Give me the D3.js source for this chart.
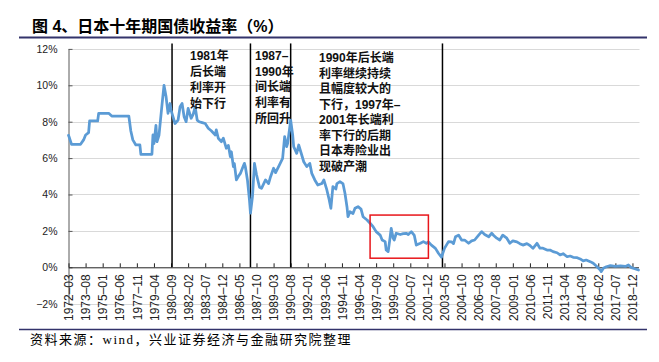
<!DOCTYPE html>
<html>
<head>
<meta charset="utf-8">
<script src="https://cdn.jsdelivr.net/npm/d3@7"></script>
<style>
  html, body { margin: 0; padding: 0; background: #fff; }
  svg { display: block; }
</style>
</head>
<body>
<div id="chart"></div>
<script>
// ---------------- data ----------------
const dates = [
  "1972-03","1972-04","1972-06","1973-03","1973-06","1973-08","1973-11","1973-12","1974-08","1974-09",
  "1975-07","1975-10","1977-03","1977-05","1977-07","1977-10","1978-02","1978-03","1979-02","1979-03",
  "1979-04","1979-06","1979-07","1979-09","1979-12","1980-02","1980-04","1980-06","1980-08","1980-09",
  "1980-11","1981-01","1981-04","1981-06","1981-08","1981-10","1981-12","1982-02","1982-05","1982-07",
  "1982-09","1982-11","1983-01","1983-04","1983-07","1983-10","1984-01","1984-05","1984-06","1984-08",
  "1984-11","1985-01","1985-04","1985-06","1985-08","1985-09","1985-11","1985-12","1986-02","1986-04",
  "1986-06","1986-08","1986-10","1986-11","1987-01","1987-03","1987-04","1987-06","1987-08","1987-10",
  "1988-01","1988-03","1988-07","1988-10","1988-12","1989-03","1989-05","1989-08","1989-12","1990-02",
  "1990-04","1990-05","1990-08","1990-10","1990-11","1991-02","1991-04","1991-07","1991-09","1991-12",
  "1992-03","1992-05","1992-08","1992-11","1993-03","1993-05","1993-08","1993-10","1993-12","1994-02",
  "1994-05","1994-06","1994-09","1994-12","1995-02","1995-04","1995-05","1995-07","1995-10","1995-12",
  "1996-03","1996-06","1996-08","1996-12","1997-03","1997-06","1997-09","1998-01","1998-03","1998-06",
  "1998-07","1998-09","1998-11","1998-12","1999-02","1999-03","1999-05","1999-09","1999-12","2000-03",
  "2000-05","2000-08","2000-11","2001-01","2001-05","2001-08","2001-11","2002-01","2002-04","2002-08",
  "2002-11","2003-02","2003-05","2003-09","2003-12","2004-02","2004-04","2004-07","2004-10","2005-01",
  "2005-05","2005-08","2005-11","2006-03","2006-06","2006-09","2007-01","2007-04","2007-06","2007-09",
  "2007-12","2008-03","2008-07","2008-10","2009-01","2009-05","2009-08","2009-11","2010-03","2010-06",
  "2010-09","2011-01","2011-04","2011-07","2011-11","2012-02","2012-05","2012-09","2012-12","2013-03",
  "2013-07","2013-10","2014-01","2014-05","2014-08","2014-11","2015-02","2015-06","2015-09","2015-12",
  "2016-04","2016-05","2016-07","2016-10","2017-02","2017-07","2017-12","2018-05","2018-08","2018-11",
  "2019-03","2019-06"
];
const yields = [
  7.25,7.1,6.76,6.76,7.0,7.27,7.4,8.04,8.04,8.46,
  8.46,8.31,8.31,7.49,7.0,6.72,6.72,6.21,6.21,7.27,
  6.8,7.8,6.9,7.25,8.92,10.0,9.4,8.46,9.0,8.64,
  8.27,7.9,8.09,8.82,9.0,8.27,8.0,8.73,8.19,8.4,
  8.82,8.09,8.0,7.95,7.9,7.64,7.5,7.27,7.55,7.09,
  6.9,7.1,6.54,6.7,6.08,6.35,5.53,5.7,4.8,5.0,
  5.16,5.44,5.71,5.5,4.8,3.7,2.97,3.88,5.71,5.1,
  4.4,4.34,4.8,4.6,4.98,5.44,5.2,5.53,5.99,7.18,
  6.63,6.81,8.09,7.27,6.63,6.26,6.72,6.17,5.8,5.53,
  5.71,5.16,4.8,4.52,4.6,4.8,4.25,3.79,3.24,4.43,
  4.3,4.6,4.7,4.6,4.07,3.33,2.78,3.05,2.95,3.24,
  3.33,3.2,2.78,2.6,2.42,2.23,1.96,1.77,1.5,1.41,
  0.95,0.86,1.68,2.14,1.59,1.5,1.87,1.8,1.85,1.87,
  1.8,1.96,1.75,1.22,1.32,1.41,1.32,1.4,1.22,1.04,
  0.77,0.55,1.04,1.41,1.4,1.3,1.68,1.77,1.5,1.5,
  1.32,1.45,1.5,1.77,1.96,1.8,1.68,1.87,1.75,1.6,
  1.5,1.77,1.6,1.32,1.45,1.4,1.3,1.22,1.3,1.2,
  1.04,1.32,1.05,1.05,0.95,0.95,0.86,0.8,0.68,0.75,
  0.58,0.62,0.55,0.53,0.46,0.35,0.4,0.31,0.22,0.07,
  -0.15,-0.24,-0.05,0.03,0.09,0.05,0.08,0.05,0.13,-0.02,
  -0.09,-0.15
];
const xTickLabels = [
  "1972–03","1973–08","1975–01","1976–06","1977–11","1979–04","1980–09","1982–02","1983–07","1984–12",
  "1986–05","1987–10","1989–03","1990–08","1992–01","1993–06","1994–11","1996–04","1997–09","1999–02",
  "2000–07","2001–12","2003–05","2004–10","2006–03","2007–08","2009–01","2010–06","2011–11","2013–04",
  "2014–09","2016–02","2017–07","2018–12"
];
const yTickValues = [-2, 0, 2, 4, 6, 8, 10, 12];
const yTickLabels = ["−2%", "0%", "2%", "4%", "6%", "8%", "10%", "12%"];
const markerDates = ["1980-10", "1987-04", "1990-08", "2003-03"];
const highlightDates = ["1997-03", "2002-01"];
const highlightValues = [0.5, 2.87];
const annotation1 = ["1981年", "后长端", "利率开", "始下行"];
const annotation2 = ["1987–", "1990年", "间长端", "利率有", "所回升"];
const annotation3 = ["1990年后长端", "利率继续持续", "且幅度较大的", "下行，1997年–", "2001年长端利", "率下行的后期", "日本寿险业出", "现破产潮"];
const title = "图 4、日本十年期国债收益率（%）";
const source = "资料来源：wind，兴业证券经济与金融研究院整理";

// ---------------- helpers ----------------
const monthIndex = s => { const [y, m] = s.split("-").map(Number); return (y - 1972) * 12 + (m - 3); };
const lastIndex = monthIndex("2019-06");

const W = 659, H = 362;
const svg = d3.select("#chart").append("svg").attr("width", W).attr("height", H);
svg.append("rect").attr("width", W).attr("height", H).attr("fill", "#fff");

const x = d3.scaleLinear().domain([0, lastIndex]).range([68.5, 638.5]);
const y = d3.scaleLinear().domain([-2, 12]).range([303.7, 48.9]);

const sansLatin = "'Liberation Sans', Arial, 'Noto Sans CJK SC', sans-serif";

// title
svg.append("text").attr("x", 32).attr("y", 32)
  .attr("font-family", sansLatin).attr("font-weight", "bold").attr("font-size", 16)
  .attr("fill", "#000").text(title);
svg.append("line").attr("x1", 19).attr("x2", 647).attr("y1", 37.5).attr("y2", 37.5)
  .attr("stroke", "#33336b").attr("stroke-width", 2);

// gridlines
svg.append("g").selectAll("line").data(yTickValues.filter(v => v !== 0)).join("line")
  .attr("x1", x(0)).attr("x2", x(lastIndex) + 1)
  .attr("y1", d => Math.round(y(d)) + 0.5).attr("y2", d => Math.round(y(d)) + 0.5)
  .attr("stroke", "#d9d9d9").attr("stroke-width", 1);

// y axis
const yAxis = svg.append("g").attr("transform", `translate(${x(0)},0)`)
  .call(d3.axisLeft(y).tickValues(yTickValues).tickFormat((d, i) => yTickLabels[i])
    .tickSizeInner(-4).tickSizeOuter(0).tickPadding(11));
yAxis.select(".domain").attr("stroke", "#595959");
yAxis.selectAll(".tick line").attr("stroke", "#595959");
yAxis.selectAll(".tick text").attr("font-family", sansLatin).attr("font-size", 10.5).attr("fill", "#222");

// x axis at 0%
const xAxis = svg.append("g").attr("transform", `translate(0,${y(0)})`)
  .call(d3.axisBottom(x).tickValues(xTickLabels.map(s => monthIndex(s.replace("–", "-"))))
    .tickFormat((d, i) => xTickLabels[i]).tickSizeInner(-4).tickSizeOuter(0));
xAxis.select(".domain").attr("stroke", "#222");
xAxis.selectAll(".tick line").attr("stroke", "#222");
xAxis.selectAll(".tick text")
  .attr("transform", "rotate(-90)").attr("text-anchor", "end")
  .attr("x", -7).attr("y", 0).attr("dy", "0.35em")
  .attr("font-family", sansLatin).attr("font-size", 12).attr("fill", "#222");

// marker vertical lines
svg.append("g").selectAll("line").data(markerDates).join("line")
  .attr("x1", d => x(monthIndex(d))).attr("x2", d => x(monthIndex(d)))
  .attr("y1", y(12.3)).attr("y2", y(0))
  .attr("stroke", "#000").attr("stroke-width", 1.5);

// series line
const series = dates.map((d, i) => ({ m: monthIndex(d), v: yields[i] }));
svg.append("path").datum(series)
  .attr("fill", "none").attr("stroke", "#5b9bd5").attr("stroke-width", 2.75)
  .attr("stroke-linejoin", "round").attr("stroke-linecap", "round")
  .attr("d", d3.line().x(d => x(d.m)).y(d => y(d.v)));

// highlight rectangle
const hx0 = x(monthIndex(highlightDates[0])), hx1 = x(monthIndex(highlightDates[1]));
svg.append("rect").attr("x", hx0).attr("y", y(highlightValues[1]))
  .attr("width", hx1 - hx0).attr("height", y(highlightValues[0]) - y(highlightValues[1]))
  .attr("fill", "none").attr("stroke", "#e8161b").attr("stroke-width", 1.5);

// annotations
function annotate(lines, ax, ay, lh) {
  const t = svg.append("text").attr("font-family", sansLatin).attr("font-weight", "bold")
    .attr("font-size", 12).attr("fill", "#111");
  lines.forEach((s, i) => t.append("tspan").attr("x", ax).attr("y", ay + i * lh).text(s));
}
annotate(annotation1, 190, 60, 16);
annotate(annotation2, 255, 60, 15.7);
annotate(annotation3, 319, 62, 15.5);

// bottom line & source
svg.append("line").attr("x1", 19).attr("x2", 647).attr("y1", 329.5).attr("y2", 329.5)
  .attr("stroke", "#33336b").attr("stroke-width", 1.5);
svg.append("text").attr("x", 30).attr("y", 344)
  .attr("font-family", "'Liberation Serif', 'Noto Sans CJK SC', serif")
  .attr("font-size", 13).attr("letter-spacing", 1.5).attr("fill", "#000").text(source);
</script>
</body>
</html>
